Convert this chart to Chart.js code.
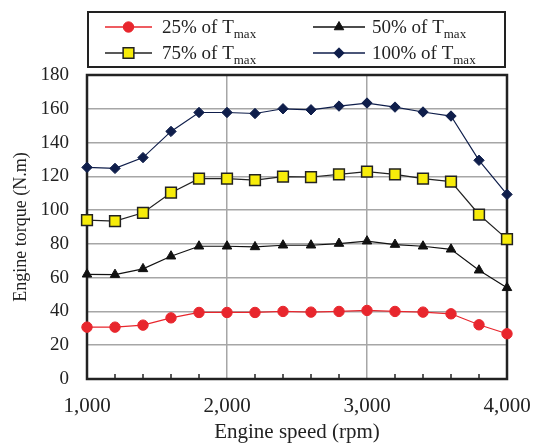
<!DOCTYPE html>
<html>
<head>
<meta charset="utf-8">
<script src="https://cdn.jsdelivr.net/npm/chart.js@4.4.0/dist/chart.umd.min.js"></script>
<style>
    html, body { margin: 0; padding: 0; background: #fff; }
</style>
</head>
<body>
<canvas id="torqueChart" width="533" height="443"></canvas>
<script>
// engine speed (rpm), one point every 200 rpm
const speeds = [1000, 1200, 1400, 1600, 1800, 2000, 2200, 2400, 2600, 2800, 3000, 3200, 3400, 3600, 3800, 4000];

// engine torque (N.m)
const torque25 = [30.7, 30.7, 31.9, 36.2, 39.4, 39.4, 39.4, 40.0, 39.6, 40.0, 40.6, 40.0, 39.6, 38.6, 32.1, 26.8];
const torque50 = [62.0, 61.8, 65.2, 72.7, 78.6, 78.6, 78.2, 79.2, 79.2, 80.2, 81.6, 79.6, 78.6, 76.8, 64.4, 54.0];
const torque75 = [94.1, 93.5, 98.4, 110.3, 118.6, 118.6, 117.8, 119.8, 119.6, 121.2, 122.8, 121.2, 118.6, 116.9, 97.4, 82.8];
const torque100 = [125.3, 124.7, 131.1, 146.6, 157.8, 157.8, 157.2, 160.0, 159.4, 161.6, 163.4, 161.0, 158.1, 155.7, 129.5, 109.3];

const seriesNames = ['25% of T', '50% of T', '75% of T', '100% of T'];
const seriesSub = 'max';

const serif = "'Liberation Serif', 'Times New Roman', serif";

function toPoints(values) {
    return speeds.map((s, i) => ({ x: s, y: values[i] }));
}

// frame round the plot and the small ticks every 200 rpm
const framePlugin = {
    id: 'frame',
    beforeDatasetsDraw(chart) {
        const ctx = chart.ctx;
        const a = chart.chartArea;
        const xs = chart.scales.x;
        ctx.save();
        ctx.strokeStyle = '#222';
        ctx.lineWidth = 1.5;
        speeds.forEach(s => {
            if (s % 1000 === 0) return;
            const px = xs.getPixelForValue(s);
            ctx.beginPath();
            ctx.moveTo(px, a.bottom);
            ctx.lineTo(px, a.bottom - 5);
            ctx.stroke();
        });
        ctx.lineWidth = 2.5;
        ctx.strokeRect(a.left, a.top, a.right - a.left, a.bottom - a.top);
        ctx.restore();
    }
};

// legend box with subscripted "max"
const legendPlugin = {
    id: 'subLegend',
    afterDraw(chart) {
        const ctx = chart.ctx;
        ctx.save();
        ctx.strokeStyle = '#222';
        ctx.lineWidth = 2;
        ctx.strokeRect(88, 12, 417, 55);
        const cols = [{ x1: 105, x2: 152, text: 162 }, { x1: 313, x2: 365, text: 372 }];
        const rows = [27, 53];
        chart.data.datasets.forEach((ds, i) => {
            const c = cols[i % 2];
            const y = rows[Math.floor(i / 2)];
            ctx.strokeStyle = ds.borderColor;
            ctx.lineWidth = 1.4;
            ctx.beginPath();
            ctx.moveTo(c.x1, y);
            ctx.lineTo(c.x2, y);
            ctx.stroke();
            ctx.fillStyle = ds.pointBackgroundColor;
            ctx.strokeStyle = ds.pointBorderColor;
            ctx.lineWidth = ds.pointBorderWidth;
            Chart.helpers.drawPoint(ctx, {
                pointStyle: ds.pointStyle,
                rotation: 0,
                radius: ds.pointRadius,
                borderWidth: ds.pointBorderWidth
            }, (c.x1 + c.x2) / 2, y);
            ctx.fillStyle = '#222';
            ctx.textBaseline = 'alphabetic';
            ctx.textAlign = 'left';
            ctx.font = '19px ' + serif;
            ctx.fillText(seriesNames[i], c.text, y + 6);
            const w = ctx.measureText(seriesNames[i]).width;
            ctx.font = '13px ' + serif;
            ctx.fillText(seriesSub, c.text + w, y + 11);
        });
        ctx.restore();
    }
};

const torqueData = {
    datasets: [
        {
            label: '25% of Tmax',
            data: toPoints(torque25),
            borderColor: '#e8262d',
            borderWidth: 1.2,
            pointStyle: 'circle',
            pointRadius: 5.2,
            pointBackgroundColor: '#e8262d',
            pointBorderColor: '#e8262d',
            pointBorderWidth: 1
        },
        {
            label: '50% of Tmax',
            data: toPoints(torque50),
            borderColor: '#111',
            borderWidth: 1.2,
            pointStyle: 'triangle',
            pointRadius: 5.5,
            pointBackgroundColor: '#111',
            pointBorderColor: '#111',
            pointBorderWidth: 1
        },
        {
            label: '75% of Tmax',
            data: toPoints(torque75),
            borderColor: '#222',
            borderWidth: 1.2,
            pointStyle: 'rect',
            pointRadius: 7.6,
            pointBackgroundColor: '#f7ec0a',
            pointBorderColor: '#222',
            pointBorderWidth: 1.5
        },
        {
            label: '100% of Tmax',
            data: toPoints(torque100),
            borderColor: '#0f1e4b',
            borderWidth: 1.2,
            pointStyle: 'rectRot',
            pointRadius: 5.2,
            pointBackgroundColor: '#0f1e4b',
            pointBorderColor: '#0f1e4b',
            pointBorderWidth: 1
        }
    ]
};

const torqueChart = new Chart(document.getElementById('torqueChart'), {
    type: 'line',
    data: torqueData,
    options: {
        responsive: false,
        animation: false,
        clip: false,
        layout: { padding: { top: 75, right: 26, left: 0, bottom: 0 } },
        plugins: {
            legend: { display: false },
            tooltip: { enabled: false }
        },
        scales: {
            x: {
                type: 'linear',
                min: 1000,
                max: 4000,
                afterFit(scale) {
                    scale.height = 64;
                    scale.paddingLeft = 0;
                    scale.paddingRight = 0;
                },
                ticks: {
                    stepSize: 1000,
                    padding: 15,
                    color: '#222',
                    font: { family: serif, size: 21 },
                    maxRotation: 0,
                    callback: v => v.toLocaleString('en-US')
                },
                grid: { color: '#a6a6a6', lineWidth: 1.5, drawTicks: false },
                border: { display: false },
                title: {
                    display: true,
                    text: 'Engine speed (rpm)',
                    color: '#222',
                    font: { family: serif, size: 21 },
                    padding: { top: 0, bottom: -2 }
                }
            },
            y: {
                min: 0,
                max: 180,
                afterFit(scale) {
                    scale.width = 87;
                    scale.paddingTop = 0;
                    scale.paddingBottom = 0;
                },
                ticks: {
                    stepSize: 20,
                    padding: 18,
                    color: '#222',
                    font: { family: serif, size: 19 }
                },
                grid: { color: '#a6a6a6', lineWidth: 1.5, drawTicks: false },
                border: { display: false },
                title: {
                    display: true,
                    text: 'Engine torque (N.m)',
                    color: '#222',
                    font: { family: serif, size: 18 },
                    padding: { top: 10, bottom: 0 }
                }
            }
        }
    },
    plugins: [framePlugin, legendPlugin]
});
</script>
</body>
</html>
